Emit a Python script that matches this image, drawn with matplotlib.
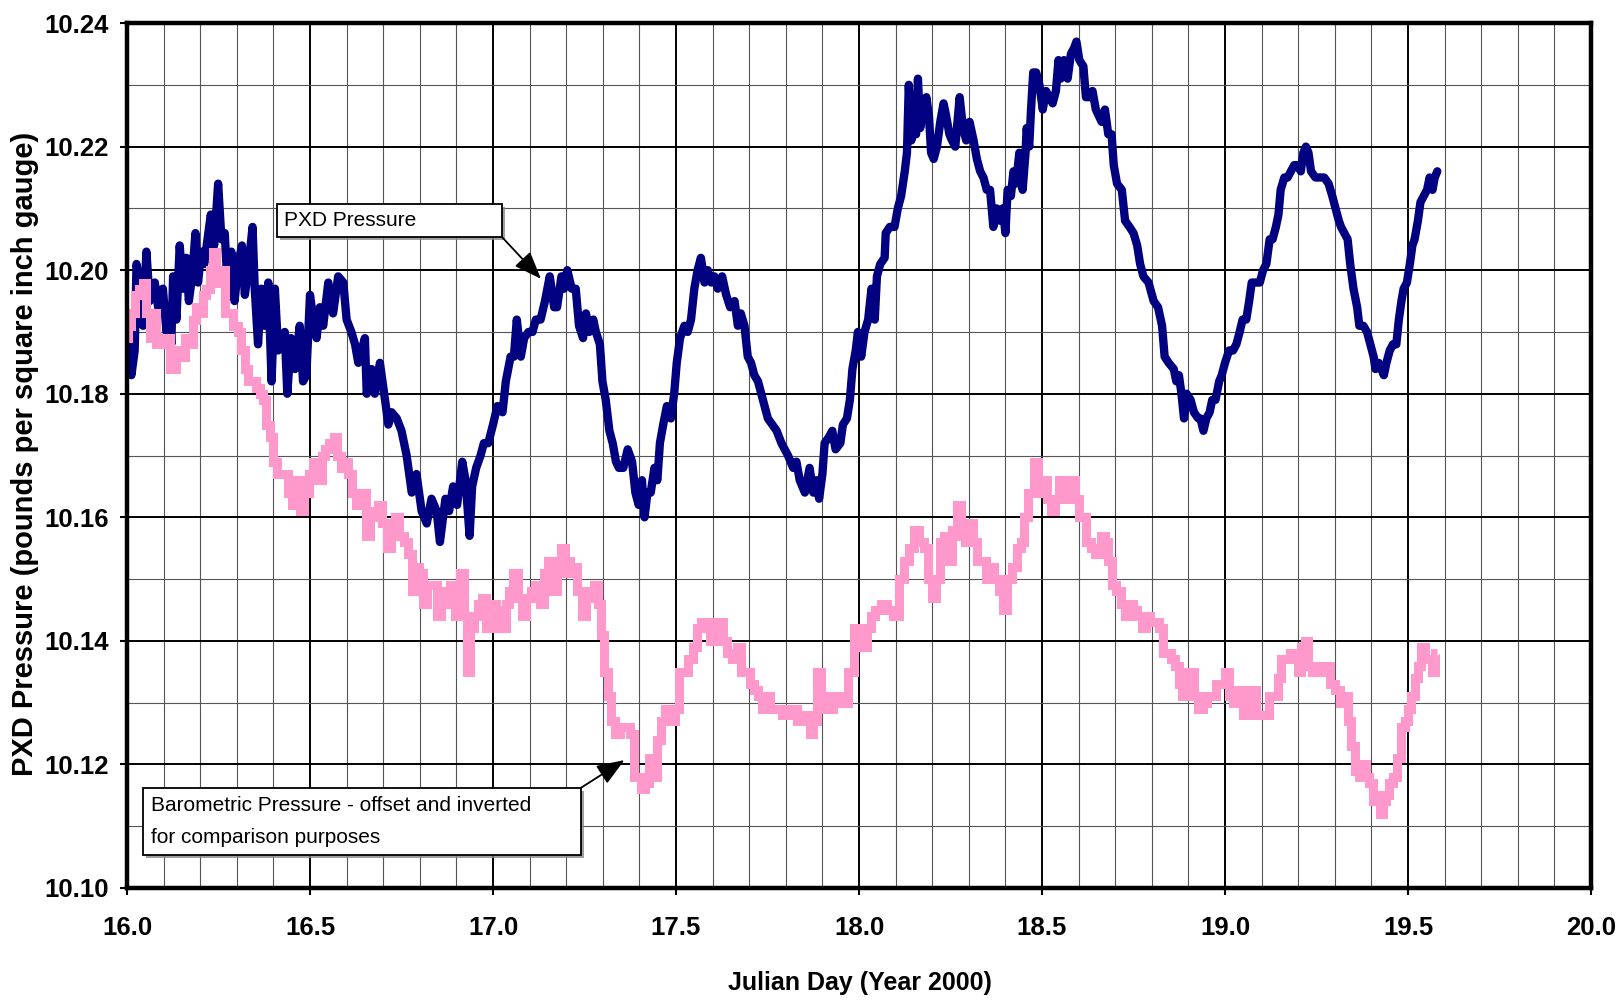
import matplotlib
matplotlib.use("Agg")
import matplotlib.pyplot as plt
from matplotlib.ticker import MultipleLocator, FormatStrFormatter
from matplotlib.patches import Rectangle
import matplotlib.patheffects as pe

plt.rcParams['font.family'] = ['Liberation Sans', 'DejaVu Sans']

# PXD pressure (psig)
day_pxd = [
    16.000, 16.012, 16.021, 16.026, 16.035, 16.044, 16.053, 16.062, 16.076, 16.085,
    16.098, 16.108, 16.117, 16.121, 16.126, 16.135, 16.144, 16.153, 16.162, 16.169,
    16.178, 16.187, 16.194, 16.203, 16.211, 16.220, 16.229, 16.238, 16.249, 16.258,
    16.267, 16.276, 16.285, 16.294, 16.304, 16.314, 16.322, 16.331, 16.343, 16.349,
    16.358, 16.367, 16.376, 16.386, 16.395, 16.404, 16.413, 16.422, 16.431, 16.438,
    16.448, 16.459, 16.472, 16.481, 16.490, 16.500, 16.509, 16.518, 16.527, 16.536,
    16.550, 16.563, 16.577, 16.591, 16.600, 16.613, 16.623, 16.632, 16.650, 16.655,
    16.668, 16.677, 16.691, 16.705, 16.714, 16.723, 16.737, 16.750, 16.764, 16.778,
    16.791, 16.805, 16.819, 16.832, 16.846, 16.855,
    16.870, 16.880, 16.891, 16.902, 16.916, 16.925, 16.936, 16.943, 16.954, 16.966,
    16.975, 16.987, 17.000, 17.012, 17.026, 17.035, 17.048, 17.057, 17.065, 17.076,
    17.085, 17.097, 17.108, 17.117, 17.130, 17.142, 17.155, 17.167, 17.175, 17.187,
    17.194, 17.203, 17.215, 17.226, 17.235, 17.246, 17.254, 17.263, 17.274, 17.281,
    17.292, 17.299, 17.308, 17.318, 17.327, 17.336, 17.344, 17.356, 17.368, 17.380,
    17.389, 17.398, 17.407, 17.414, 17.422, 17.431, 17.441, 17.449, 17.456, 17.465,
    17.475, 17.486, 17.495, 17.502, 17.511, 17.523, 17.532, 17.541, 17.550, 17.559,
    17.568, 17.578, 17.587, 17.596, 17.605, 17.614, 17.626, 17.637, 17.648, 17.660,
    17.669, 17.677, 17.687, 17.696, 17.705, 17.714, 17.724, 17.733, 17.742, 17.751,
    17.775, 17.788, 17.806, 17.820, 17.829, 17.838, 17.852, 17.865, 17.875, 17.884,
    17.891, 17.900, 17.906, 17.918, 17.927, 17.936, 17.949, 17.956, 17.967, 17.975,
    17.982, 17.991, 17.997, 18.006, 18.015, 18.025, 18.034, 18.043, 18.049, 18.058,
    18.070, 18.073, 18.084, 18.097, 18.106, 18.115, 18.125, 18.131, 18.136, 18.143,
    18.150, 18.156, 18.161, 18.167, 18.176, 18.184, 18.191, 18.197, 18.204, 18.213,
    18.222, 18.231, 18.238, 18.247, 18.254, 18.263, 18.275, 18.284, 18.293, 18.302,
    18.313, 18.322, 18.331, 18.340, 18.349, 18.358, 18.367, 18.376, 18.385, 18.393,
    18.400, 18.406, 18.415, 18.422, 18.429, 18.438, 18.447, 18.455, 18.458, 18.465,
    18.470, 18.476, 18.484, 18.493, 18.502, 18.511, 18.520, 18.529, 18.538, 18.545,
    18.551, 18.560, 18.570, 18.579, 18.588, 18.594, 18.602, 18.613, 18.620, 18.629,
    18.638, 18.647,
    18.663, 18.672, 18.681, 18.690, 18.696, 18.705, 18.718, 18.727, 18.739, 18.750,
    18.760, 18.768, 18.777, 18.791, 18.805, 18.817, 18.828, 18.835, 18.846, 18.860,
    18.867, 18.874, 18.881, 18.888, 18.895, 18.906, 18.915, 18.927, 18.933, 18.941,
    18.949, 18.958, 18.965, 18.974, 18.984, 18.991, 19.000, 19.011, 19.022, 19.031,
    19.040, 19.048, 19.058, 19.066, 19.073, 19.084, 19.095, 19.104, 19.113, 19.122,
    19.130, 19.139, 19.146, 19.152, 19.162, 19.171, 19.180, 19.189, 19.198, 19.207,
    19.214, 19.221, 19.228, 19.235, 19.247, 19.258, 19.271, 19.283, 19.293, 19.302,
    19.311, 19.317, 19.326, 19.335, 19.342, 19.351, 19.361, 19.367, 19.378, 19.388,
    19.397, 19.406, 19.411, 19.420, 19.427, 19.434, 19.441, 19.450, 19.459, 19.468,
    19.475, 19.482, 19.488, 19.497, 19.505, 19.512, 19.518, 19.527, 19.534, 19.543,
    19.552, 19.559, 19.567, 19.573, 19.580,
]
pxd = [
    10.188, 10.183, 10.187, 10.201, 10.198, 10.191, 10.203, 10.195, 10.198, 10.194,
    10.197, 10.190, 10.193, 10.188, 10.199, 10.192, 10.204, 10.197, 10.202, 10.195,
    10.199, 10.206, 10.198, 10.203, 10.201, 10.205, 10.209, 10.204, 10.214, 10.205,
    10.206, 10.196, 10.203, 10.195, 10.201, 10.204, 10.196, 10.200, 10.207, 10.197,
    10.188, 10.197, 10.191, 10.198, 10.182, 10.197, 10.187, 10.189, 10.190, 10.180,
    10.189, 10.184, 10.191, 10.182, 10.183, 10.196, 10.192, 10.189, 10.194, 10.191,
    10.198, 10.193, 10.199, 10.198, 10.192, 10.190, 10.188, 10.185, 10.189, 10.180,
    10.184, 10.180, 10.185, 10.179, 10.175, 10.177, 10.176, 10.174, 10.170, 10.164,
    10.167, 10.161, 10.159, 10.163, 10.161, 10.156,
    10.163, 10.161, 10.165, 10.162, 10.169, 10.166, 10.157, 10.165, 10.168, 10.170,
    10.172, 10.172, 10.175, 10.178, 10.177, 10.182, 10.186, 10.186, 10.192, 10.186,
    10.189, 10.190, 10.190, 10.192, 10.192, 10.195, 10.199, 10.194, 10.194, 10.199,
    10.197, 10.200, 10.197, 10.197, 10.191, 10.189, 10.193, 10.190, 10.192, 10.190,
    10.188, 10.182, 10.179, 10.174, 10.172, 10.169, 10.168, 10.168, 10.171, 10.169,
    10.164, 10.162, 10.166, 10.160, 10.164, 10.164, 10.168, 10.166, 10.172, 10.175,
    10.178, 10.176, 10.180, 10.185, 10.189, 10.191, 10.190, 10.192, 10.197, 10.200,
    10.202, 10.198, 10.200, 10.198, 10.199, 10.197, 10.199, 10.196, 10.194, 10.195,
    10.191, 10.193, 10.191, 10.186, 10.185, 10.183, 10.182, 10.180, 10.178, 10.176,
    10.174, 10.172, 10.170, 10.168, 10.169, 10.166, 10.164, 10.168, 10.164, 10.166,
    10.163, 10.167, 10.172, 10.173, 10.174, 10.171, 10.172, 10.175, 10.176, 10.179,
    10.184, 10.187, 10.190, 10.186, 10.190, 10.192, 10.197, 10.192, 10.199, 10.201,
    10.202, 10.206, 10.207, 10.207, 10.210, 10.212, 10.216, 10.219, 10.230, 10.221,
    10.223, 10.222, 10.231, 10.223, 10.226, 10.228, 10.225, 10.219, 10.218, 10.220,
    10.224, 10.227, 10.225, 10.222, 10.221, 10.220, 10.228, 10.223, 10.221, 10.224,
    10.221, 10.218, 10.216, 10.215, 10.213, 10.213, 10.207, 10.210, 10.208, 10.210,
    10.206, 10.213, 10.212, 10.216, 10.214, 10.219, 10.213, 10.219, 10.223, 10.220,
    10.226, 10.232, 10.232, 10.230, 10.226, 10.229, 10.228, 10.227, 10.229, 10.234,
    10.231, 10.234, 10.231, 10.235, 10.236, 10.237, 10.234, 10.233, 10.228, 10.228,
    10.229, 10.226,
    10.224, 10.226, 10.222, 10.222, 10.217, 10.214, 10.213, 10.208, 10.207, 10.206,
    10.204, 10.201, 10.199, 10.198, 10.195, 10.194, 10.191, 10.186, 10.185, 10.184,
    10.182, 10.183, 10.180, 10.176, 10.180, 10.179, 10.177, 10.176, 10.176, 10.174,
    10.176, 10.177, 10.179, 10.179, 10.182, 10.183, 10.185, 10.187, 10.187, 10.188,
    10.190, 10.192, 10.192, 10.195, 10.198, 10.198, 10.198, 10.200, 10.201, 10.205,
    10.205, 10.207, 10.209, 10.213, 10.215, 10.215, 10.216, 10.217, 10.217, 10.216,
    10.219, 10.220, 10.219, 10.216, 10.215, 10.215, 10.215, 10.214, 10.212, 10.210,
    10.208, 10.207, 10.206, 10.205, 10.201, 10.197, 10.194, 10.191, 10.191, 10.190,
    10.188, 10.186, 10.184, 10.185, 10.184, 10.183, 10.185, 10.187, 10.188, 10.188,
    10.192, 10.195, 10.197, 10.198, 10.201, 10.204, 10.205, 10.208, 10.211, 10.212,
    10.213, 10.215, 10.213, 10.215, 10.216,
]

# barometric pressure, offset and inverted
day_baro = [
    16.000, 16.007, 16.016, 16.026, 16.039, 16.048, 16.057, 16.067, 16.076, 16.085,
    16.098, 16.112, 16.121, 16.130, 16.139, 16.153, 16.162, 16.176, 16.185, 16.194,
    16.203, 16.211, 16.220, 16.231, 16.240, 16.247, 16.253, 16.263, 16.271, 16.285,
    16.296, 16.308, 16.317, 16.326, 16.335, 16.349, 16.358, 16.367, 16.376, 16.386,
    16.395, 16.404, 16.413, 16.422, 16.435, 16.445, 16.457, 16.468, 16.479, 16.490,
    16.502, 16.513, 16.527, 16.536, 16.545, 16.559, 16.570, 16.579, 16.588, 16.600,
    16.609, 16.621, 16.632, 16.645, 16.659, 16.670, 16.682, 16.691, 16.705, 16.716,
    16.727, 16.739, 16.750, 16.761, 16.773, 16.782, 16.791, 16.803, 16.814, 16.828,
    16.840,
    16.852, 16.866, 16.875, 16.889, 16.902, 16.916, 16.925, 16.934, 16.943, 16.954,
    16.966, 16.975, 16.989, 17.003, 17.016, 17.030, 17.039, 17.048, 17.062, 17.076,
    17.085, 17.097, 17.109, 17.121, 17.135, 17.144, 17.158, 17.170, 17.181, 17.192,
    17.203, 17.215, 17.224, 17.235, 17.249, 17.258, 17.270, 17.281, 17.290, 17.299,
    17.308, 17.318, 17.327, 17.341, 17.354, 17.368, 17.380, 17.389, 17.400, 17.411,
    17.422, 17.431, 17.443, 17.454, 17.465, 17.477, 17.491, 17.502, 17.514, 17.527,
    17.541, 17.550, 17.562, 17.573, 17.587, 17.599, 17.609, 17.623, 17.635, 17.646,
    17.660, 17.672, 17.684, 17.696, 17.708, 17.719, 17.728, 17.742, 17.751, 17.765,
    17.780, 17.800, 17.820, 17.840, 17.860, 17.870, 17.880, 17.890, 17.900, 17.920,
    17.940, 17.960, 17.980,
    17.993, 18.015, 18.030, 18.038, 18.049, 18.070, 18.084, 18.102, 18.115, 18.129,
    18.143, 18.156, 18.170, 18.184, 18.195, 18.204, 18.215, 18.227, 18.238, 18.247,
    18.261, 18.273, 18.284, 18.297, 18.306, 18.318, 18.329, 18.343, 18.352, 18.364,
    18.375, 18.388, 18.400, 18.411, 18.425, 18.436, 18.447, 18.456, 18.470, 18.484,
    18.493, 18.506, 18.520, 18.529, 18.540, 18.552, 18.561, 18.575, 18.585, 18.597,
    18.606, 18.615, 18.627, 18.638,
    18.654, 18.668, 18.677, 18.686, 18.696, 18.709, 18.723, 18.732, 18.744, 18.755,
    18.766, 18.778, 18.790, 18.801, 18.814, 18.826, 18.835, 18.846, 18.860, 18.869,
    18.878, 18.888, 18.897, 18.909, 18.920, 18.933, 18.945, 18.956, 18.970, 18.982,
    18.993, 19.006, 19.016, 19.029, 19.043, 19.057, 19.068, 19.080, 19.091, 19.102,
    19.113, 19.125, 19.139, 19.148, 19.157, 19.171, 19.183, 19.194, 19.203, 19.214,
    19.223, 19.232, 19.244, 19.258, 19.269, 19.281, 19.294, 19.308, 19.320, 19.331,
    19.340, 19.351, 19.360, 19.372, 19.381, 19.390, 19.399, 19.409, 19.418, 19.427,
    19.436, 19.444, 19.454, 19.466, 19.475, 19.486, 19.495, 19.505, 19.514, 19.523,
    19.532, 19.541, 19.550, 19.561, 19.570, 19.580,
]
baro = [
    10.189, 10.191, 10.193, 10.196, 10.197, 10.198, 10.193, 10.189, 10.193, 10.188,
    10.188, 10.189, 10.184, 10.184, 10.187, 10.186, 10.189, 10.188, 10.192, 10.194,
    10.193, 10.196, 10.197, 10.200, 10.203, 10.200, 10.198, 10.200, 10.193, 10.193,
    10.191, 10.190, 10.187, 10.184, 10.182, 10.182, 10.181, 10.180, 10.179, 10.175,
    10.173, 10.169, 10.167, 10.167, 10.167, 10.164, 10.162, 10.166, 10.161, 10.164,
    10.167, 10.169, 10.166, 10.170, 10.171, 10.172, 10.173, 10.170, 10.168, 10.169,
    10.167, 10.164, 10.162, 10.164, 10.157, 10.160, 10.161, 10.162, 10.159, 10.155,
    10.157, 10.160, 10.157, 10.156, 10.154, 10.148, 10.152, 10.151, 10.146, 10.149,
    10.149,
    10.144, 10.148, 10.146, 10.149, 10.144, 10.151, 10.144, 10.135, 10.142, 10.144,
    10.146, 10.147, 10.142, 10.146, 10.145, 10.142, 10.146, 10.148, 10.151, 10.147,
    10.144, 10.147, 10.148, 10.149, 10.146, 10.151, 10.153, 10.148, 10.151, 10.155,
    10.153, 10.151, 10.152, 10.148, 10.144, 10.148, 10.147, 10.149, 10.146, 10.141,
    10.135, 10.131, 10.127, 10.125, 10.126, 10.126, 10.125, 10.118, 10.118, 10.116,
    10.117, 10.121, 10.118, 10.124, 10.127, 10.129, 10.127, 10.129, 10.135, 10.135,
    10.137, 10.139, 10.142, 10.143, 10.143, 10.140, 10.141, 10.143, 10.140, 10.138,
    10.137, 10.139, 10.135, 10.135, 10.133, 10.132, 10.131, 10.129, 10.131, 10.129,
    10.129, 10.128, 10.129, 10.127, 10.128, 10.125, 10.127, 10.135, 10.131, 10.129,
    10.131, 10.130, 10.135,
    10.142, 10.139, 10.142, 10.144, 10.145, 10.146, 10.145, 10.144, 10.150, 10.153,
    10.155, 10.158, 10.156, 10.155, 10.150, 10.147, 10.150, 10.156, 10.157, 10.153,
    10.158, 10.162, 10.157, 10.156, 10.159, 10.156, 10.153, 10.153, 10.150, 10.152,
    10.150, 10.148, 10.145, 10.150, 10.152, 10.155, 10.156, 10.160, 10.164, 10.169,
    10.164, 10.166, 10.163, 10.161, 10.163, 10.166, 10.163, 10.163, 10.166, 10.163,
    10.160, 10.160, 10.156, 10.155,
    10.154, 10.157, 10.156, 10.153, 10.149, 10.148, 10.146, 10.144, 10.146, 10.145,
    10.144, 10.142, 10.144, 10.143, 10.143, 10.142, 10.138, 10.138, 10.137, 10.136,
    10.133, 10.131, 10.135, 10.135, 10.131, 10.129, 10.130, 10.131, 10.131, 10.133,
    10.133, 10.135, 10.131, 10.130, 10.132, 10.128, 10.131, 10.132, 10.128, 10.128,
    10.128, 10.131, 10.131, 10.134, 10.137, 10.137, 10.138, 10.138, 10.135, 10.139,
    10.140, 10.136, 10.135, 10.135, 10.136, 10.136, 10.133, 10.132, 10.130, 10.131,
    10.127, 10.123, 10.119, 10.118, 10.120, 10.118, 10.117, 10.114, 10.115, 10.112,
    10.114, 10.115, 10.117, 10.118, 10.121, 10.126, 10.127, 10.129, 10.131, 10.134,
    10.136, 10.139, 10.137, 10.137, 10.135, 10.138,
]

fig = plt.figure(figsize=(16.22, 10.02), dpi=100)
ax = fig.add_axes([0.0783, 0.1138, 0.9026, 0.8632])

ax.plot(day_pxd, pxd, color='#000080', lw=6, solid_joinstyle='round',
        solid_capstyle='round', zorder=3)
ax.plot(day_baro, baro, color='#FF99CC', lw=6.5, drawstyle='steps-mid',
        solid_joinstyle='miter', solid_capstyle='butt', zorder=4)

ax.set_xlim(16.0, 20.0)
ax.set_ylim(10.10, 10.24)
ax.xaxis.set_major_locator(MultipleLocator(0.5))
ax.xaxis.set_minor_locator(MultipleLocator(0.1))
ax.yaxis.set_major_locator(MultipleLocator(0.02))
ax.yaxis.set_minor_locator(MultipleLocator(0.01))
ax.xaxis.set_major_formatter(FormatStrFormatter('%.1f'))
ax.yaxis.set_major_formatter(FormatStrFormatter('%.2f'))

ax.grid(which='major', color='black', lw=1.4, zorder=1)
ax.grid(which='minor', color='#555555', lw=0.8, zorder=1)
ax.set_axisbelow(True)
for s in ax.spines.values():
    s.set_linewidth(3.2)
    s.set_zorder(5)

ax.tick_params(which='major', direction='out', length=5, width=1.5,
               labelsize=18.5)
ax.tick_params(which='minor', length=0)
ax.tick_params(axis='x', pad=15)
ax.tick_params(axis='y', pad=8)
for lab in ax.get_xticklabels() + ax.get_yticklabels():
    lab.set_fontweight('bold')

fig.text(0.0154, 0.5469, 'PXD Pressure (pounds per square inch gauge)',
         rotation=90, ha='center', va='center', fontsize=21, fontweight='bold')
fig.text(0.530, 0.019, 'Julian Day (Year 2000)', ha='center', va='center',
         fontsize=18, fontweight='bold')

shadow = [pe.SimplePatchShadow(offset=(2, -2), shadow_rgbFace='#888888', alpha=0.8),
          pe.Normal()]
arrow_style = '-|>,head_length=1.7,head_width=0.65'

# annotation boxes
box1 = Rectangle((16.410, 10.2054), 17.024 - 16.410, 10.2107 - 10.2054,
                 facecolor='white', edgecolor='black', lw=1.3, zorder=6)
box1.set_path_effects(shadow)
ax.add_patch(box1)
ax.text(16.430, 10.2081, 'PXD Pressure', fontsize=15, va='center', ha='left', zorder=7)
ax.annotate('', xy=(17.131, 10.1986), xytext=(17.024, 10.2054),
            arrowprops=dict(arrowstyle=arrow_style, color='black', lw=1.3,
                            shrinkA=0, shrinkB=0), zorder=7)

box2 = Rectangle((16.043, 10.1053), 17.240 - 16.043, 10.1162 - 10.1053,
                 facecolor='white', edgecolor='black', lw=1.3, zorder=6)
box2.set_path_effects(shadow)
ax.add_patch(box2)
ax.text(16.066, 10.1134, 'Barometric Pressure - offset and inverted',
        fontsize=15, va='center', ha='left', zorder=7)
ax.text(16.066, 10.1081, 'for comparison purposes',
        fontsize=15, va='center', ha='left', zorder=7)
ax.annotate('', xy=(17.359, 10.1207), xytext=(17.240, 10.1162),
            arrowprops=dict(arrowstyle=arrow_style, color='black', lw=1.3,
                            shrinkA=0, shrinkB=0), zorder=7)

fig.savefig('out.png', dpi=100)
